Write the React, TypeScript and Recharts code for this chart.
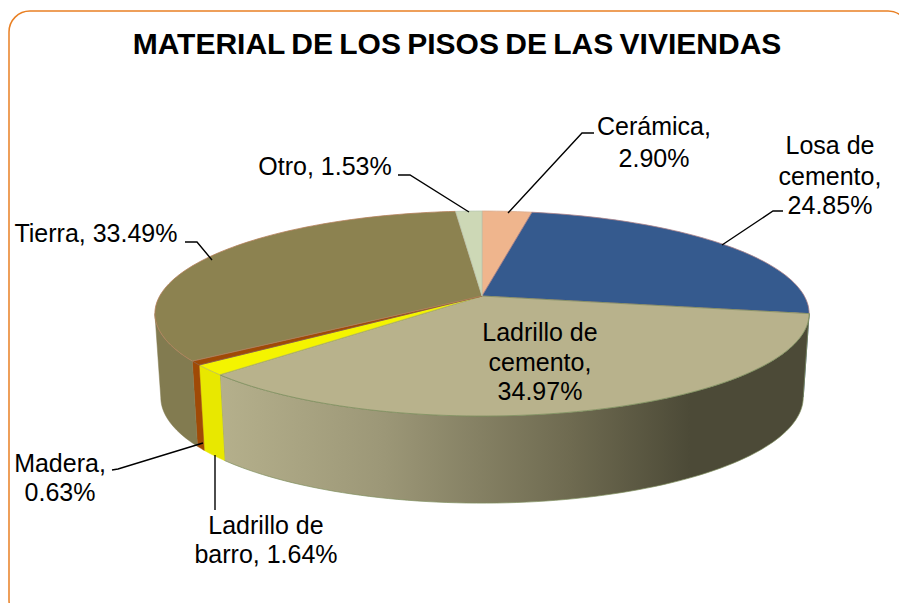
import React from "react";
import { PieChart, Pie } from "recharts";

const categories = ["Cerámica", "Losa de cemento", "Ladrillo de cemento", "Ladrillo de barro", "Madera", "Tierra", "Otro"];
const values = [2.9, 24.85, 34.97, 1.64, 0.63, 33.49, 1.53];
const title = "MATERIAL DE LOS PISOS DE LAS VIVIENDAS";
const labelTexts = [
  ["Cerámica,", "2.90%"],
  ["Losa de", "cemento,", "24.85%"],
  ["Ladrillo de", "cemento,", "34.97%"],
  ["Ladrillo de", "barro, 1.64%"],
  ["Madera,", "0.63%"],
  ["Tierra, 33.49%"],
  ["Otro, 1.53%"],
];
const topColors = ["#EFB58D", "#355A8E", "#B8B28C", "#F4F400", "#A04A06", "#8C8250", "#CDD8B6"];
const sideColors = ["#D9A47F", "#2A4872", "url(#wallGrad)", "#E8E800", "#A04A06", "#827B50", "#BAC4A5"];
const edgeColors = ["#D9A98A", "#A98088", "#7F8F5F", "#B8B85A", "#8A5A40", "#B5805A", "#B8C8B0"];

const labelLayout = [
  { x: 654, y: [135, 167], line: "508,213 582,133 594,133" },
  { x: 830, y: [154, 185, 214], line: "722,245 773,211 783,211" },
  { x: 540, y: [341, 371, 400], line: "" },
  { x: 266, y: [534, 563], line: "215,455 215,510" },
  { x: 60, y: [472, 501], line: "112,470 118,469 203,443" },
  { x: 96, y: [242], line: "185,242 197,242 212,260" },
  { x: 325, y: [175], line: "398,175 410,175 469,212" },
];

const data = categories.map((name, i) => ({ name, value: values[i] }));

// Perspective projection of the flat pie onto the picture plane.
const PERSPECTIVE = 0.171;
const TOP_DEPTH = 99.5;
const BOTTOM_SCALE = 0.982;
const BOTTOM_DEPTH = 102.9;
const BOTTOM_DROP = 83;
const SILHOUETTE = (Math.acos(-PERSPECTIVE) * 180) / Math.PI;

const rad = (d: number) => (d * Math.PI) / 180;
function topPoint(cx: number, cy: number, r: number, t: number): [number, number] {
  const s = Math.sin(rad(t)), c = Math.cos(rad(t));
  const d = 1 + PERSPECTIVE * c;
  return [cx + (r * s) / d, cy - (TOP_DEPTH * c) / d];
}
function bottomPoint(cx: number, cy: number, r: number, t: number): [number, number] {
  const s = Math.sin(rad(t)), c = Math.cos(rad(t));
  const d = 1 + PERSPECTIVE * c;
  return [cx + (r * BOTTOM_SCALE * s) / d, cy + BOTTOM_DROP - (BOTTOM_DEPTH * c) / d];
}
function samples(a: number, b: number): number[] {
  const n = Math.max(2, Math.ceil(Math.abs(b - a) / 1.5));
  const out: number[] = [];
  for (let i = 0; i <= n; i++) out.push(a + ((b - a) * i) / n);
  return out;
}
const toPath = (pts: [number, number][]) =>
  pts.map((p, i) => `${i ? "L" : "M"}${p[0].toFixed(2)},${p[1].toFixed(2)}`).join("") + "Z";

function Slice3D(props: any) {
  const { cx, cy, outerRadius, startAngle, endAngle, index } = props;
  const a = 90 - startAngle;
  const b = 90 - endAngle;
  const top: [number, number][] = [[cx, cy], ...samples(a, b).map((t) => topPoint(cx, cy, outerRadius, t))];
  const wa = Math.max(a, SILHOUETTE);
  const wb = Math.min(b, 360 - SILHOUETTE);
  let wall = "";
  if (wb > wa) {
    const ts = samples(wa, wb);
    wall = toPath([
      ...ts.map((t) => topPoint(cx, cy, outerRadius, t)),
      ...ts.slice().reverse().map((t) => bottomPoint(cx, cy, outerRadius, t)),
    ]);
  }
  return (
    <g>
      <defs>
        <linearGradient id="wallGrad" gradientUnits="userSpaceOnUse" x1={219} x2={690} y1={0} y2={0}>
          <stop offset="0" stopColor="#B5B08C" />
          <stop offset="0.35" stopColor="#9C9777" />
          <stop offset="0.75" stopColor="#6E6A50" />
          <stop offset="1" stopColor="#4C4A37" />
        </linearGradient>
      </defs>
      {wall && <path d={wall} fill={sideColors[index]} stroke={index === 2 ? "#7F8F5F" : sideColors[index]} strokeWidth={index === 2 ? 0.7 : 0.5} />}
      <path d={toPath(top)} fill={topColors[index]} stroke={edgeColors[index]} strokeWidth={0.8} />
    </g>
  );
}

function renderLabel(props: any) {
  const { index } = props;
  const lay = labelLayout[index];
  return (
    <g key={index}>
      {lay.line && <polyline points={lay.line} fill="none" stroke="#000" strokeWidth={1.4} />}
      <text x={lay.x} textAnchor="middle" fontSize={25} fontFamily="'Liberation Sans', Arial, sans-serif" fill="#000">
        {labelTexts[index].map((s, i) => (
          <tspan key={i} x={lay.x} y={lay.y[i]}>{s}</tspan>
        ))}
      </text>
    </g>
  );
}

export default function App() {
  return (
    <div style={{ position: "fixed", left: 0, top: 0, width: 899, height: 603, background: "#fff", overflow: "hidden" }}>
      <PieChart width={899} height={603} margin={{ top: 0, right: 0, bottom: 0, left: 0 }}>
        <rect x={9} y={11} width={900} height={610} rx={21} ry={21} fill="#fff" stroke="#E98024" strokeWidth={1.5} />
        <text x={457} y={54} textAnchor="middle" fontSize={30} fontWeight="bold" wordSpacing={-2} fontFamily="'Liberation Sans', Arial, sans-serif" fill="#000">
          {title}
        </text>
        <Pie
          data={data}
          dataKey="value"
          nameKey="name"
          cx={482}
          cy={296}
          outerRadius={322.3}
          startAngle={90}
          endAngle={-270}
          isAnimationActive={false}
          shape={Slice3D}
          label={renderLabel}
          labelLine={false}
          stroke="none"
        />
      </PieChart>
    </div>
  );
}
